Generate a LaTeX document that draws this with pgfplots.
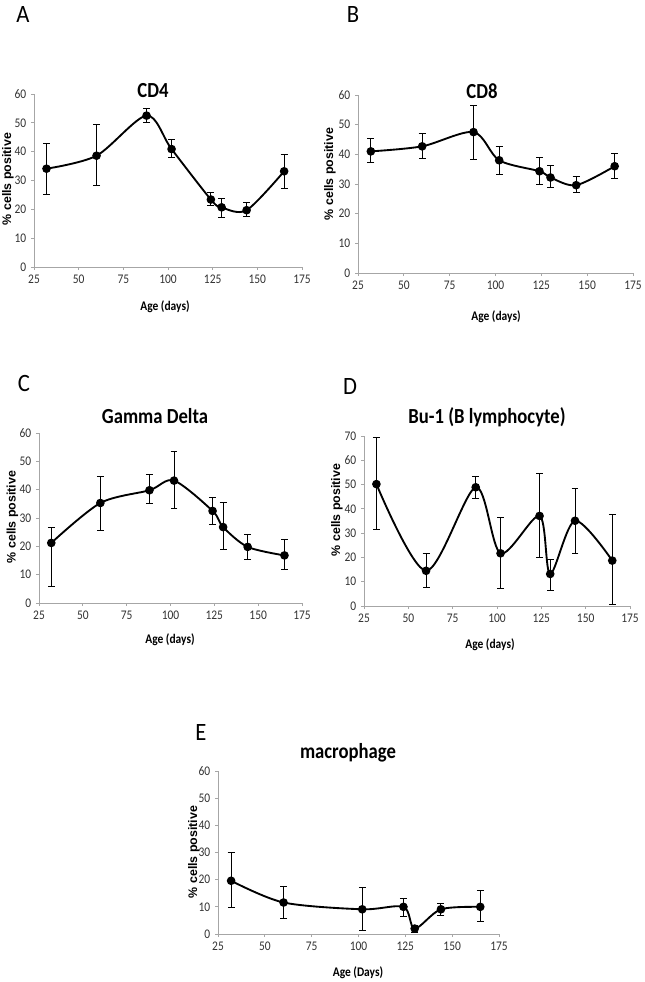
\documentclass[border=0pt]{standalone}
\usepackage{pgfplots}
\pgfplotsset{compat=1.18}
\usepackage{pgfplotstable}
\usepackage{fontspec}
\setmainfont{Carlito}
\newfontfamily\lsans{Liberation Sans}
\newcommand\tickfont{\fontsize{8.6}{9}\selectfont}
\newcommand\titlefont{\fontsize{14}{16}\selectfont\bfseries}
\newcommand\xlabfont{\fontsize{8.6}{10}\selectfont\bfseries}
\newcommand\ylabfont{\lsans\fontsize{9.3}{10}\selectfont\bfseries}
\newcommand\letterfont{\fontsize{17}{19}\selectfont}

\pgfplotstableread{
x y ep em
32 34.1 8.9 9.0
60 38.6 11.0 10.2
88 52.5 2.5 2.4
102 40.9 3.5 3.0
124 23.4 2.5 2.2
130 20.7 3.0 3.4
144 19.7 2.7 2.1
165 33.2 6.0 5.9
}\dataA
\pgfplotstableread{
x y ep em
32 41.0 4.2 3.7
60 42.7 4.5 4.2
88 47.5 8.9 9.1
102 38.0 4.7 4.7
124 34.3 4.6 4.5
130 32.2 4.0 3.3
144 29.6 3.0 2.4
165 36.0 4.2 4.2
}\dataB
\pgfplotstableread{
x y ep em
32 21.2 5.6 15.3
60 35.3 9.5 9.7
88 39.8 5.4 4.7
102 43.2 10.4 9.9
124 32.5 4.7 4.7
130 26.8 8.7 8.0
144 19.8 4.4 4.5
165 16.8 5.7 5.0
}\dataC
\pgfplotstableread{
x y ep em
32 50.2 19.2 18.6
60 14.5 7.2 6.8
88 48.9 4.4 4.6
102 21.7 14.8 14.6
124 37.1 17.3 17.1
130 13.2 6.0 6.6
144 35.1 13.2 13.3
165 18.7 19.0 18.2
}\dataD
\pgfplotstableread{
x y ep em
32 19.6 10.4 9.8
60 11.6 5.8 6.0
102 9.1 8.0 7.9
124 10.0 3.2 3.4
130 2.0 1.2 1.3
144 9.1 2.2 2.2
165 10.0 5.9 5.2
}\dataE

\pgfplotsset{
  panel/.style={
    scale only axis, anchor=south west,
    xmin=25, xmax=175, ymin=0, ymax=60,
    xtick={25,50,...,175}, ytick={0,10,...,60},
    axis x line*=bottom, axis y line*=left,
    axis line style={draw=black!35, line width=0.6pt, -},
    tick style={draw=black!35, line width=0.6pt},
    tick align=outside, major tick length=2.25pt,
    ticklabel style={font=\tickfont, text=black!80, yscale=1.15},
    /pgf/number format/assume math mode=true,
    clip=false,
  },
  series/.style={
    draw=black, line width=1.4pt, smooth, mark=*, mark size=2.5pt,
    mark options={draw=black, fill=black, solid},
    error bars/.cd, y dir=both, y explicit,
    error bar style={line width=0.7pt, black},
    error mark options={rotate=90, mark size=2.6pt, line width=0.7pt, black},
  },
}
\tikzset{
  ttl/.style={font=\titlefont, anchor=base, yscale=1.15},
  xlab/.style={font=\xlabfont, anchor=base, yscale=1.15},
  ylab/.style={font=\ylabfont, rotate=90},
  let/.style={font=\letterfont, yscale=1.1},
}

\begin{document}
\begin{tikzpicture}
\useasboundingbox (0pt,0pt) rectangle (483pt,-736.5pt);

% Panel A
\begin{axis}[panel, at={(25.5pt,-200.25pt)}, width=201pt, height=129.75pt]
\addplot[series] table[x=x, y=y, y error plus=ep, y error minus=em] {\dataA};
\end{axis}
\node[let] at (17.25pt,-10.5pt) {A};
\node[ttl] at (114.75pt,-72.75pt) {CD4};
\node[xlab] at (123.75pt,-232.5pt) {Age (days)};
\node[ylab] at (6pt,-134.25pt) {\% cells positive};

% Panel B
\begin{axis}[panel, at={(268.5pt,-204.75pt)}, width=206.25pt, height=133.5pt]
\addplot[series] table[x=x, y=y, y error plus=ep, y error minus=em] {\dataB};
\end{axis}
\node[let] at (264.75pt,-10.5pt) {B};
\node[ttl] at (361.5pt,-73.5pt) {CD8};
\node[xlab] at (372pt,-240pt) {Age (days)};
\node[ylab] at (247.5pt,-130.5pt) {\% cells positive};

% Panel C
\begin{axis}[panel, at={(29.25pt,-452.25pt)}, width=197.25pt, height=127.5pt]
\addplot[series] table[x=x, y=y, y error plus=ep, y error minus=em] {\dataC};
\end{axis}
\node[let] at (18pt,-287.25pt) {C};
\node[ttl] at (116.25pt,-317.25pt) {Gamma Delta};
\node[xlab] at (127.5pt,-482.25pt) {Age (days)};
\node[ylab] at (9.375pt,-387.75pt) {\% cells positive};

% Panel D
\begin{axis}[panel, at={(273pt,-454.5pt)}, width=199.5pt, height=127.5pt, ymax=70, ytick={0,10,...,70}]
\addplot[series] table[x=x, y=y, y error plus=ep, y error minus=em] {\dataD};
\end{axis}
\node[let] at (262.5pt,-289.5pt) {D};
\node[ttl] at (365.25pt,-317.25pt) {Bu-1 (B lymphocyte)};
\node[xlab] at (367.5pt,-486pt) {Age (days)};
\node[ylab] at (252.75pt,-382.5pt) {\% cells positive};

% Panel E
\begin{axis}[panel, at={(163.5pt,-700.5pt)}, width=210.75pt, height=122.25pt]
\addplot[series] table[x=x, y=y, y error plus=ep, y error minus=em] {\dataE};
\end{axis}
\node[let] at (150.75pt,-549pt) {E};
\node[ttl] at (261pt,-568.5pt) {macrophage};
\node[xlab] at (268.5pt,-732pt) {Age (Days)};
\node[ylab] at (145.5pt,-639pt) {\% cells positive};
\end{tikzpicture}
\end{document}
